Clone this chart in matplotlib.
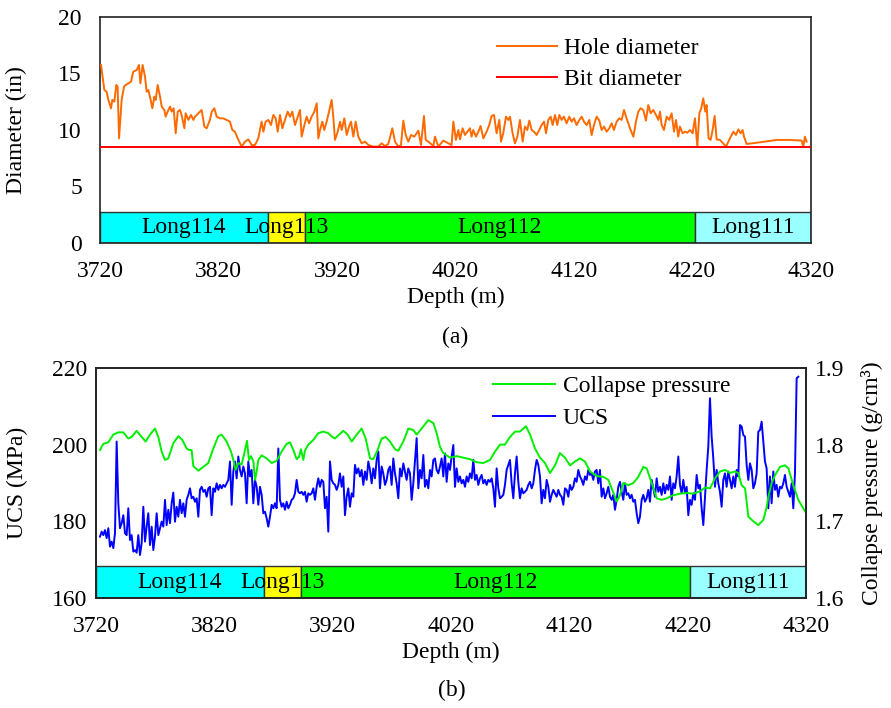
import matplotlib
matplotlib.use("Agg")
import matplotlib.pyplot as plt
import numpy as np

FIGSIZE = (8.91, 7.08)
DPI = 100
FONT_SIZE = 17

# formations along the well (m)
formation_names = ["Long114", "Long113", "Long112", "Long111"]
formation_tops = [3720, 3862, 3893, 4222]
formation_bases = [3862, 3893, 4222, 4320]
formation_colors = ["#00FFFF", "#FFFF00", "#00FF00", "#99FFFF"]

depth_ticks = [3720, 3820, 3920, 4020, 4120, 4220, 4320]

# (a) caliper log
hole_depth = [
    3720.9, 3722.0, 3723.7, 3725.6, 3727.1, 3729.3, 3730.4, 3732.1, 3733.8, 3734.9,
    3736.1, 3738.3, 3740.3, 3741.7, 3743.9, 3746.2, 3748.1, 3751.0, 3752.9, 3754.1,
    3756.0, 3758.0, 3759.4, 3760.8, 3762.2, 3764.2, 3765.9, 3767.0, 3768.7, 3770.7,
    3772.1, 3774.3, 3775.4, 3777.1, 3779.1, 3780.5, 3782.2, 3783.9, 3785.6, 3787.5,
    3788.9, 3791.2, 3792.3, 3794.6, 3796.8, 3798.8, 3800.2, 3803.0, 3805.8, 3808.1,
    3810.0, 3812.8, 3814.3, 3816.5, 3818.5, 3821.3, 3824.1, 3826.9, 3829.7, 3831.7,
    3833.9, 3836.2, 3839.6, 3842.4, 3845.2, 3848.0, 3850.8, 3853.6, 3856.4, 3857.9,
    3859.8, 3862.1, 3864.3, 3866.3, 3868.3, 3870.0, 3871.9, 3873.9, 3876.1, 3878.4,
    3880.4, 3882.3, 3884.6, 3886.5, 3888.8, 3890.2, 3892.5, 3894.4, 3896.4, 3898.6,
    3900.9, 3902.9, 3904.3, 3905.7, 3907.6, 3909.3, 3911.3, 3913.3, 3915.5, 3916.9,
    3918.3, 3920.6, 3922.6, 3924.0, 3926.2, 3928.2, 3930.2, 3931.8, 3933.8, 3935.8,
    3938.0, 3940.8, 3943.7, 3946.5, 3950.7, 3954.9, 3957.7, 3960.5, 3963.3, 3966.7,
    3969.0, 3971.8, 3974.0, 3976.0, 3978.0, 3980.2, 3982.5, 3985.3, 3988.7, 3990.9,
    3993.4, 3994.9, 3997.1, 4001.3, 4002.7, 4005.5, 4009.7, 4016.7, 4018.2, 4020.4,
    4022.4, 4023.8, 4026.0, 4028.0, 4030.0, 4032.2, 4033.6, 4035.0, 4037.3, 4039.3,
    4041.2, 4043.5, 4046.3, 4048.5, 4050.5, 4052.5, 4054.7, 4057.0, 4058.4, 4060.3,
    4062.6, 4064.6, 4066.0, 4068.2, 4070.2, 4072.2, 4074.4, 4076.7, 4078.6, 4080.6,
    4082.3, 4084.3, 4086.2, 4088.5, 4090.7, 4092.7, 4094.7, 4096.4, 4098.3, 4100.3,
    4102.0, 4104.0, 4105.9, 4107.6, 4109.6, 4111.5, 4113.8, 4116.0, 4118.0, 4120.0,
    4122.2, 4124.5, 4126.5, 4128.4, 4130.7, 4132.9, 4134.9, 4136.9, 4139.1, 4141.4,
    4143.3, 4145.3, 4147.6, 4149.8, 4151.8, 4153.7, 4156.0, 4158.2, 4160.2, 4162.2,
    4163.9, 4165.8, 4167.8, 4170.1, 4172.3, 4174.3, 4176.2, 4178.5, 4180.7, 4182.7,
    4184.7, 4186.9, 4189.2, 4191.2, 4192.6, 4194.0, 4195.9, 4198.2, 4200.4, 4202.4,
    4204.4, 4206.1, 4208.0, 4209.4, 4211.7, 4213.7, 4215.6, 4217.9, 4220.1, 4222.1,
    4224.1, 4225.8, 4227.4, 4229.1, 4230.8, 4231.9, 4233.6, 4235.3, 4237.0, 4238.7,
    4240.4, 4243.2, 4248.3, 4251.6, 4254.5, 4256.7, 4258.7, 4260.6, 4262.3, 4263.5,
    4265.7, 4276.9, 4291.0, 4302.3, 4312.1, 4313.5, 4314.9, 4316.3,
]
hole_diameter = [
    15.75, 14.87, 13.54, 13.39, 12.66, 11.92, 12.66, 12.51, 13.98, 13.84,
    9.26, 12.66, 13.84, 13.98, 14.13, 14.28, 15.16, 15.31, 15.75, 14.13,
    15.75, 14.72, 13.39, 13.54, 12.95, 11.92, 12.95, 12.66, 13.98, 12.95,
    12.07, 11.77, 11.18, 11.62, 12.07, 11.62, 11.92, 9.71, 11.62, 11.77,
    11.33, 10.15, 11.48, 10.89, 11.33, 10.89, 11.18, 11.48, 11.77, 10.30,
    10.15, 10.89, 11.62, 11.92, 11.18, 11.03, 11.03, 10.89, 10.74, 10.00,
    9.85, 9.26, 8.53, 8.97, 9.17, 8.67, 8.67, 9.26, 10.74, 9.85,
    10.74, 10.89, 10.44, 11.33, 11.03, 9.85, 11.33, 10.15, 10.89, 11.62,
    11.18, 11.62, 10.44, 11.03, 11.77, 9.41, 10.44, 11.18, 10.59, 11.18,
    11.62, 12.36, 9.26, 10.00, 10.74, 10.00, 10.74, 11.62, 12.66, 11.18,
    9.12, 9.85, 10.74, 10.00, 11.03, 9.56, 10.30, 10.74, 9.41, 10.74,
    9.41, 8.82, 8.97, 8.67, 8.53, 8.53, 8.82, 8.58, 8.76, 10.15,
    8.97, 8.53, 8.67, 10.83, 9.56, 8.97, 9.56, 9.41, 9.94, 8.67,
    11.24, 9.12, 8.97, 8.58, 9.41, 8.53, 9.06, 8.67, 10.74, 9.12,
    10.00, 9.17, 10.15, 9.56, 9.85, 10.15, 9.41, 10.00, 9.41, 9.85,
    10.35, 9.26, 9.85, 10.44, 11.24, 11.33, 9.71, 10.89, 8.97, 9.71,
    11.18, 10.89, 11.18, 9.71, 8.82, 9.41, 10.89, 8.97, 10.30, 10.00,
    10.83, 10.00, 9.85, 9.56, 10.00, 10.44, 10.74, 9.71, 10.89, 11.18,
    10.44, 11.33, 10.44, 11.33, 10.89, 11.18, 10.59, 11.18, 10.74, 11.03,
    10.44, 10.89, 11.18, 10.74, 10.44, 10.89, 9.56, 10.44, 11.18, 10.83,
    10.00, 10.30, 9.85, 10.15, 10.59, 10.00, 10.74, 11.03, 10.89, 11.77,
    11.18, 10.59, 10.00, 9.41, 10.74, 11.62, 11.92, 11.77, 10.83, 12.21,
    11.48, 11.77, 11.33, 10.89, 11.62, 10.44, 10.00, 11.18, 10.89, 11.48,
    9.85, 10.89, 9.41, 10.30, 9.71, 9.85, 9.76, 10.00, 9.71, 11.03,
    8.53, 11.48, 11.92, 12.80, 11.62, 12.21, 9.26, 9.12, 10.00, 11.24,
    9.17, 9.12, 8.53, 9.26, 9.85, 9.56, 10.06, 9.71, 10.00, 9.41,
    8.76, 8.91, 9.12, 9.12, 9.06, 8.53, 9.41, 8.97,
]
bit_diameter = 8.5

# (b) rock strength, sampled evenly between these depths
ucs_first_depth = 3723.4
ucs_last_depth = 4313.5
ucs = [
    176.0, 177.3, 176.4, 177.7, 175.6, 178.2, 173.4, 174.7, 173.0, 176.9,
    200.8, 184.7, 178.2, 179.5, 181.6, 176.9, 176.4, 183.4, 175.1, 176.4,
    172.1, 172.5, 171.8, 176.4, 171.2, 174.3, 183.8, 174.7, 178.6, 182.1,
    173.8, 178.6, 172.5, 176.0, 182.1, 176.4, 178.2, 179.9, 178.6, 185.6,
    179.0, 183.0, 179.5, 184.7, 187.5, 179.9, 183.8, 181.2, 185.6, 182.1,
    184.7, 181.2, 185.6, 186.9, 188.6, 186.0, 186.4, 185.1, 186.0, 181.2,
    188.2, 189.0, 187.7, 188.2, 186.4, 188.6, 189.0, 181.6, 188.6, 187.7,
    189.9, 188.2, 189.5, 188.6, 189.5, 189.0, 189.9, 190.8, 195.6, 184.3,
    193.0, 195.6, 191.2, 196.9, 193.4, 191.7, 194.3, 192.5, 184.7, 195.6,
    191.7, 193.4, 184.7, 190.8, 189.0, 184.3, 189.0, 186.9, 182.1, 182.5,
    180.8, 178.6, 181.2, 184.3, 183.4, 184.7, 183.4, 199.0, 185.6, 183.8,
    184.7, 183.0, 185.1, 183.4, 184.3, 185.6, 186.0, 187.3, 190.8, 187.7,
    187.3, 187.7, 186.9, 187.7, 185.1, 187.3, 186.9, 187.3, 188.6, 185.6,
    189.0, 191.2, 189.0, 190.8, 190.3, 183.4, 186.4, 177.3, 195.6, 190.8,
    189.9, 189.5, 188.2, 189.5, 192.5, 189.0, 191.7, 181.6, 186.4, 188.6,
    183.8, 187.3, 186.4, 194.7, 192.5, 193.8, 191.7, 193.4, 189.5, 193.0,
    190.8, 195.6, 193.4, 189.9, 193.8, 191.2, 196.0, 198.2, 188.6, 194.3,
    192.5, 189.5, 190.8, 193.4, 194.3, 189.5, 196.4, 192.5, 189.9, 186.0,
    193.8, 191.7, 195.1, 193.0, 190.8, 193.8, 192.5, 185.6, 189.9, 196.0,
    201.7, 188.6, 193.4, 191.2, 197.3, 189.0, 190.8, 188.6, 193.4, 191.7,
    196.0, 196.4, 193.4, 192.5,
    194.3, 196.4, 191.7, 197.7, 190.3, 195.1, 193.4, 196.9, 199.9, 189.0,
    193.8, 190.3, 191.7, 189.9, 190.8, 189.0, 191.7, 190.3, 192.5, 191.2,
    196.0, 190.8, 192.1, 189.5, 191.2, 192.1, 189.9, 190.8, 189.5, 190.8,
    190.3, 191.2, 188.6, 183.8, 193.8, 188.6, 186.0, 186.4, 186.9, 189.5,
    193.4, 194.7, 196.0, 189.9, 186.0, 192.5, 196.9, 190.3, 186.0, 188.6,
    187.3, 187.7, 188.2, 189.5, 190.3, 188.6, 189.9, 193.4, 196.0, 194.7,
    191.7, 184.7, 188.2, 186.0, 190.8, 189.0, 185.1, 186.9, 188.2, 187.3,
    186.4, 188.2, 186.9, 186.4, 184.3, 188.6, 188.2, 186.4, 189.5, 188.2,
    189.0, 191.2, 190.3, 193.4, 191.7, 190.8, 189.5, 191.7, 190.8, 193.4,
    192.1, 192.5, 190.8, 193.0, 193.4, 189.9, 193.4, 186.4, 188.6, 186.0,
    187.3, 189.0, 186.4, 185.6, 186.9, 183.0, 185.6, 189.0, 190.3, 187.7,
    185.6, 189.9, 186.9, 187.3, 186.0, 186.9, 185.1, 185.6, 182.1, 179.5,
    181.2, 185.6, 186.9, 185.1, 186.0, 188.2, 185.1, 190.8, 188.6, 186.4,
    191.2, 187.7, 189.0, 186.9, 189.9, 187.3, 189.5, 188.2, 191.7, 185.6,
    189.9, 188.6, 191.7, 196.9, 189.5, 187.3, 190.8, 187.3, 189.0, 181.6,
    185.6, 184.3, 187.3, 185.6, 192.1, 188.6, 189.5, 183.4, 179.0, 186.4,
    193.4, 199.5, 212.1, 202.1, 196.4, 189.0, 193.4, 189.9, 187.7, 183.8,
    190.8, 192.5, 189.0, 193.0, 190.8, 188.6, 191.7, 189.0, 193.4, 191.7,
    205.1, 204.7, 202.5, 202.1, 194.7, 190.8, 195.1, 193.4, 188.6, 189.9,
    192.5, 203.4, 203.8, 206.0, 200.8, 195.6, 193.8, 183.4, 191.7, 184.7,
    193.0, 188.2, 189.5, 186.4, 189.0, 188.6, 189.9, 192.1, 189.0, 187.7,
    186.4, 189.9, 183.4, 192.5, 217.3, 217.7,
]

collapse_depth = [
    3723.4, 3726.2, 3730.4, 3734.6, 3738.9, 3743.1, 3747.3, 3750.1, 3754.4, 3758.6,
    3762.0, 3765.6, 3769.9, 3772.7, 3775.5, 3778.3, 3781.1, 3785.4, 3789.6, 3793.0,
    3796.6, 3798.6, 3800.8, 3802.3, 3806.5, 3810.7, 3814.9, 3819.2, 3823.4, 3826.2,
    3830.4, 3834.1, 3836.1, 3838.0, 3840.3, 3843.1, 3845.4, 3847.6, 3849.3, 3851.0,
    3853.0, 3854.4, 3855.8, 3857.2, 3860.0, 3864.2, 3868.5, 3872.7, 3876.9, 3881.1,
    3884.0, 3886.8, 3889.6, 3891.6, 3893.2, 3895.2, 3896.6, 3899.4, 3903.7, 3907.9,
    3912.1, 3916.3, 3919.7, 3922.0, 3925.4, 3929.0, 3932.7, 3936.1, 3940.3, 3944.5,
    3947.9, 3951.6, 3954.4, 3958.0, 3961.4, 3964.8, 3968.5, 3972.7, 3975.5, 3979.7,
    3984.0, 3988.2, 3991.0, 3995.2, 4000.9, 4005.1, 4007.9, 4010.7, 4013.5, 4019.2,
    4024.8, 4030.4, 4036.1, 4041.7, 4047.3, 4053.0, 4057.2, 4061.4, 4065.6, 4069.9,
    4074.1, 4078.3, 4083.4, 4086.8, 4091.0, 4095.2, 4099.4, 4103.7, 4107.9, 4112.1,
    4116.3, 4120.6, 4124.8, 4129.0, 4133.2, 4137.5, 4143.1, 4148.7, 4153.0, 4157.2,
    4160.0, 4162.8, 4165.6, 4169.9, 4174.1, 4178.3, 4182.5, 4185.4, 4189.6, 4193.8,
    4198.0, 4202.3, 4207.9, 4213.5, 4219.2, 4224.8, 4230.4, 4234.7, 4238.9, 4243.1,
    4247.3, 4251.6, 4255.8, 4260.0, 4262.8, 4265.6, 4268.5, 4271.3, 4275.5, 4279.7,
    4284.0, 4286.8, 4288.2, 4291.0, 4293.8, 4298.0, 4302.3, 4305.1, 4309.3, 4313.5,
    4319.2,
]
collapse_pressure = [
    1.793, 1.801, 1.803, 1.813, 1.816, 1.816, 1.808, 1.810, 1.818, 1.810,
    1.804, 1.813, 1.821, 1.810, 1.791, 1.780, 1.782, 1.802, 1.811, 1.806,
    1.795, 1.793, 1.793, 1.772, 1.766, 1.771, 1.776, 1.795, 1.811, 1.813,
    1.804, 1.791, 1.780, 1.767, 1.776, 1.774, 1.789, 1.805, 1.780, 1.785,
    1.778, 1.754, 1.765, 1.780, 1.786, 1.782, 1.776, 1.779, 1.791, 1.801,
    1.803, 1.793, 1.781, 1.784, 1.794, 1.780, 1.792, 1.800, 1.806, 1.815,
    1.817, 1.815, 1.810, 1.808, 1.813, 1.818, 1.813, 1.804, 1.813, 1.821,
    1.808, 1.782, 1.781, 1.793, 1.808, 1.810, 1.804, 1.794, 1.792, 1.804,
    1.821, 1.819, 1.813, 1.821, 1.832, 1.828, 1.815, 1.797, 1.789, 1.783,
    1.785, 1.783, 1.781, 1.777, 1.776, 1.780, 1.791, 1.800, 1.800, 1.810,
    1.817, 1.817, 1.824, 1.813, 1.795, 1.783, 1.776, 1.763, 1.773, 1.789,
    1.783, 1.773, 1.778, 1.782, 1.778, 1.765, 1.759, 1.758, 1.754, 1.737,
    1.726, 1.734, 1.750, 1.747, 1.750, 1.758, 1.771, 1.769, 1.750, 1.730,
    1.728, 1.730, 1.734, 1.736, 1.737, 1.736, 1.739, 1.744, 1.743, 1.756,
    1.765, 1.767, 1.763, 1.765, 1.763, 1.747, 1.743, 1.706, 1.700, 1.695,
    1.702, 1.719, 1.732, 1.750, 1.760, 1.771, 1.773, 1.769, 1.747, 1.728,
    1.713,
]


def draw_formations(ax, base, height):
    for name, top, bottom, color in zip(
        formation_names, formation_tops, formation_bases, formation_colors
    ):
        ax.bar(top, height, width=bottom - top, bottom=base, align="edge",
               color=color, edgecolor="#333333", linewidth=1.0, zorder=2)
        ax.text((top + bottom) / 2, base + height / 2, name,
                ha="center", va="center", zorder=3)


def style_axis(ax, ypad):
    for spine in ax.spines.values():
        spine.set_color("#222222")
        spine.set_linewidth(1.2)
    ax.tick_params(axis="x", length=0, pad=13)
    ax.tick_params(axis="y", length=0, pad=ypad)
    ax.set_xlim(3720, 4320)
    ax.set_xticks(depth_ticks)


def start():
    plt.rcParams["font.family"] = ["Liberation Serif", "DejaVu Serif"]
    plt.rcParams["font.size"] = FONT_SIZE

    fig = plt.figure(figsize=FIGSIZE, dpi=DPI)
    ax1 = fig.add_axes([0.1122, 0.6568, 0.7980, 0.3192])
    ax2 = fig.add_axes([0.1077, 0.1554, 0.7969, 0.3249])

    # (a)
    style_axis(ax1, 13)
    ax1.set_ylim(0, 20)
    ax1.set_yticks([0, 5, 10, 15, 20])
    draw_formations(ax1, 0, 2.7)
    ax1.plot(hole_depth, hole_diameter, color="#FF6A00", lw=1.4,
             label="Hole diameter", zorder=4)
    ax1.axhline(bit_diameter, color="#FF0000", lw=1.4, label="Bit diameter",
                zorder=4)
    ax1.set_ylabel("Diameter (in)")
    ax1.yaxis.set_label_coords(-0.103, 0.5)
    ax1.set_xlabel("Depth (m)")
    ax1.xaxis.set_label_coords(0.5, -0.195)
    ax1.legend(loc="upper left", bbox_to_anchor=(0.558, 0.908), frameon=False,
               borderpad=0, borderaxespad=0, handlelength=2.55,
               handletextpad=0.3, labelspacing=0.38)

    # (b)
    style_axis(ax2, 6.5)
    ax2.set_ylim(160, 220)
    ax2.set_yticks([160, 180, 200, 220])
    draw_formations(ax2, 160, 8.3)
    ucs_depth = np.linspace(ucs_first_depth, ucs_last_depth, len(ucs))
    line_ucs, = ax2.plot(ucs_depth, ucs, color="#0000FF", lw=1.4, label="UCS")
    ax2.set_ylabel("UCS (MPa)")
    ax2.yaxis.set_label_coords(-0.096, 0.5)
    ax2.set_xlabel("Depth (m)")
    ax2.xaxis.set_label_coords(0.5, -0.19)

    ax3 = ax2.twinx()
    ax3.set_ylim(1.6, 1.9)
    ax3.set_yticks([1.6, 1.7, 1.8, 1.9])
    ax3.tick_params(axis="y", length=0, pad=6.5)
    for spine in ax3.spines.values():
        spine.set_color("#222222")
        spine.set_linewidth(1.2)
    line_cp, = ax3.plot(collapse_depth, collapse_pressure, color="#00EE00",
                        lw=1.4, label="Collapse pressure")
    ax3.set_ylabel("Collapse pressure (g/cm³)", rotation=90)
    ax3.yaxis.set_label_coords(1.078, 0.5)
    ax3.legend([line_cp, line_ucs], ["Collapse pressure", "UCS"],
               loc="upper left", bbox_to_anchor=(0.559, 0.968), frameon=False,
               borderpad=0, borderaxespad=0, handlelength=2.65,
               handletextpad=0.3, labelspacing=0.45)

    fig.text(455 / 891, 1 - 337 / 708, "(a)", ha="center", va="center")
    fig.text(452 / 891, 1 - 690 / 708, "(b)", ha="center", va="center")

    fig.savefig("out.png", dpi=DPI)


if __name__ == "__main__":
    start()
